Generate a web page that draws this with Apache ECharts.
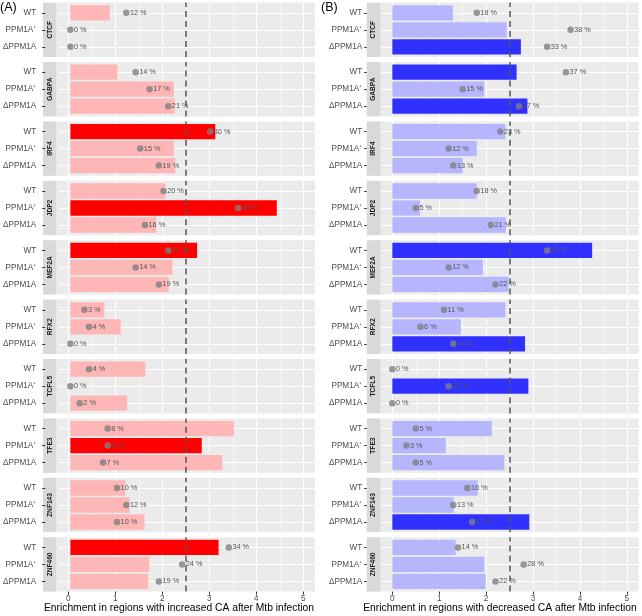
<!DOCTYPE html>
<html><head><meta charset="utf-8">
<script src="https://cdn.jsdelivr.net/npm/echarts@6/dist/echarts.min.js"></script>
<style>html,body{margin:0;padding:0;background:#fff}#c{width:642px;height:616px}</style>
</head><body><div id="c"></div>
<script>
// ---- data ----
const factors = ['CTCF','GABPA','IRF4','JDP2','MEF2A','RFX2','TCFL5','TFE3','ZNF143','ZNF460'];
const groups = ['WT','PPM1A\u207A','\u0394PPM1A'];
const xTicks = [0,1,2,3,4,5];
const xMinor = [0.5,1.5,2.5,3.5,4.5];
const threshold = 2.5;

// increased CA (panel A)
const incEnrichWT    = [0.85,1.01,3.11,2.04,2.72,0.73,1.61,3.51,1.18,3.18];
const incEnrichPPM   = [0,2.22,2.22,4.43,2.19,1.08,0,2.82,1.27,1.69];
const incEnrichDelta = [0,2.24,2.25,1.84,2.11,0,1.22,3.26,1.59,1.67];
const incPctWT    = [12,14,30,20,21,3,4,8,10,34];
const incPctPPM   = [0,17,15,36,14,4,0,8,12,24];
const incPctDelta = [0,21,19,16,19,0,2,7,10,19];
const incSigWT    = [0,0,1,0,1,0,0,0,0,1];
const incSigPPM   = [0,0,0,1,0,0,0,1,0,0];
const incSigDelta = [0,0,0,0,0,0,0,0,0,0];

// decreased CA (panel B)
const decEnrichWT    = [1.29,2.65,2.41,1.80,4.26,2.41,0,2.12,1.82,1.35];
const decEnrichPPM   = [2.44,1.96,1.80,0.59,1.93,1.46,2.90,1.14,1.31,1.96];
const decEnrichDelta = [2.74,2.88,1.50,2.42,2.48,2.83,0,2.39,2.92,1.99];
const decPctWT    = [18,37,23,18,33,11,0,5,16,14];
const decPctPPM   = [38,15,12,5,12,6,12,3,13,28];
const decPctDelta = [33,27,13,21,22,13,0,5,17,22];
const decSigWT    = [0,1,0,0,1,0,0,0,0,0];
const decSigPPM   = [0,0,0,0,0,0,1,0,0,0];
const decSigDelta = [1,1,0,0,0,1,0,0,1,0];

// ---- layout / style ----
const FONT = "'Liberation Sans', Arial, sans-serif";
const facetTop0 = 2.6, facetPitch = 59.4, facetH = 54.4, inset = 1.7;
const panels = [
  {label:'(A)', labelX:0, title:'Enrichment in regions with increased CA after Mtb infection', titleX:179,
   enrich:[incEnrichWT,incEnrichPPM,incEnrichDelta], pct:[incPctWT,incPctPPM,incPctDelta], sig:[incSigWT,incSigPPM,incSigDelta],
   light:'#FFB6B6', dark:'#FF0000', left:56.5, width:258.5, stripLeft:43, labelMargin:9, tickLen:3},
  {label:'(B)', labelX:321, title:'Enrichment in regions with decreased CA after Mtb infection', titleX:500,
   enrich:[decEnrichWT,decEnrichPPM,decEnrichDelta], pct:[decPctWT,decPctPPM,decPctDelta], sig:[decSigWT,decSigPPM,decSigDelta],
   light:'#B6B6FF', dark:'#3030FF', left:380.6, width:258, stripLeft:366.7, labelMargin:4.5, tickLen:2.5}
];

const grid=[], xAxis=[], yAxis=[], series=[], graphic=[];
panels.forEach(P => {
  const stripW = P.left - P.stripLeft;
  factors.forEach((f, i) => {
    const top = facetTop0 + i*facetPitch;
    // background grid (panel)
    const gB = grid.length;
    grid.push({left:P.left, top:top, width:P.width, height:facetH, show:true, backgroundColor:'#EBEBEB', borderWidth:0, z:-5});
    xAxis.push({gridIndex:gB, type:'value', min:-0.25, max:5.25, show:i===factors.length-1, z:5,
      axisLine:{show:true, onZero:false, lineStyle:{color:'rgba(0,0,0,0)'}}, splitLine:{show:false},
      axisTick:{show:true, inside:false, customValues:xTicks, length:3, lineStyle:{color:'#333333', width:1}},
      axisLabel:{customValues:xTicks, fontSize:8.2, color:'#4D4D4D', margin:3, fontFamily:FONT}});
    yAxis.push({gridIndex:gB, type:'value', min:0, max:1, show:false});
    series.push({type:'scatter', xAxisIndex:gB, yAxisIndex:gB, data:[], silent:true, z:1,
      markLine:{silent:true, symbol:'none', z:1, animation:false, label:{show:false},
        data:[...xTicks.map(v=>({xAxis:v, lineStyle:{color:'#FFFFFF', width:1.1, type:'solid'}})),
              ...xMinor.map(v=>({xAxis:v, lineStyle:{color:'#FFFFFF', width:0.5, type:'solid'}}))]}});
    series.push({type:'scatter', xAxisIndex:gB, yAxisIndex:gB, data:[], silent:true, z:3,
      markLine:{silent:true, symbol:'none', z:3, animation:false, label:{show:false},
        data:[{xAxis:threshold}], lineStyle:{color:'#555555', width:1.5, type:[6,4]}}});
    // data grid
    const gD = grid.length;
    grid.push({left:P.left, top:top+inset, width:P.width, height:facetH-2*inset, show:false});
    xAxis.push({gridIndex:gD, type:'value', min:-0.25, max:5.25, show:false});
    yAxis.push({gridIndex:gD, type:'category', data:groups, inverse:true, offset:stripW, z:5,
      axisLine:{show:true, onZero:false, lineStyle:{color:'rgba(0,0,0,0)'}}, splitLine:{show:false},
      axisTick:{show:true, inside:false, alignWithLabel:true, length:P.tickLen, lineStyle:{color:'#333333', width:1}},
      axisLabel:{fontSize:8.2, color:'#4D4D4D', margin:P.labelMargin, fontFamily:FONT}});
    series.push({type:'scatter', xAxisIndex:gD, yAxisIndex:gD, data:[], silent:true, z:1,
      markLine:{silent:true, symbol:'none', z:1, animation:false, label:{show:false},
        data:groups.map(g=>({yAxis:g})), lineStyle:{color:'#FFFFFF', width:1.1, type:'solid'}}});
    series.push({type:'bar', xAxisIndex:gD, yAxisIndex:gD, barWidth:'90%', z:2, silent:true,
      data:groups.map((g,k)=>({value:P.enrich[k][i], itemStyle:{color:P.sig[k][i]?P.dark:P.light}}))});
    series.push({type:'scatter', xAxisIndex:gD, yAxisIndex:gD, zlevel:1, z:4, silent:true, clip:false,
      symbol:'circle', symbolSize:6.5, itemStyle:{color:'#808080'},
      data:groups.map((g,k)=>[P.pct[k][i]/10, k])});
    // percentage labels, placed through the axes
    series.push({type:'custom', xAxisIndex:gD, yAxisIndex:gD, z:6, zlevel:1, silent:true, clip:false,
      data:groups.map((g,k)=>[P.pct[k][i]/10, k, P.pct[k][i]]),
      renderItem:(params, api)=>{
        const pt = api.coord([api.value(0), api.value(1)]);
        return {type:'text', x:pt[0]+3.6, y:pt[1], z2:10,
          style:{text:api.value(2)+' %', fill:'#555555', font:'7.3px '+FONT, align:'left', verticalAlign:'middle'}};
      }});
    // strip
    graphic.push({type:'rect', z:-1, shape:{x:P.stripLeft, y:top, width:stripW, height:facetH}, style:{fill:'#D9D9D9'}, silent:true});
    graphic.push({type:'text', z:-1, x:P.stripLeft+stripW/2, y:top+facetH/2, rotation:Math.PI/2,
      style:{text:f, align:'center', verticalAlign:'middle', font:'bold 6.6px '+FONT, fill:'#1A1A1A'}, silent:true});
  });
  graphic.push({type:'text', x:P.labelX, y:1, style:{text:P.label, font:'12.5px '+FONT, fill:'#000', align:'left', verticalAlign:'top'}});
  graphic.push({type:'text', x:P.titleX, y:608.5, style:{text:P.title, font:'10.3px '+FONT, fill:'#000', align:'center', verticalAlign:'middle'}});
});

const chart = echarts.init(document.getElementById('c'), null, {renderer:'canvas'});
chart.setOption({animation:false, backgroundColor:'#FFFFFF', grid, xAxis, yAxis, series, graphic});
</script></body></html>
